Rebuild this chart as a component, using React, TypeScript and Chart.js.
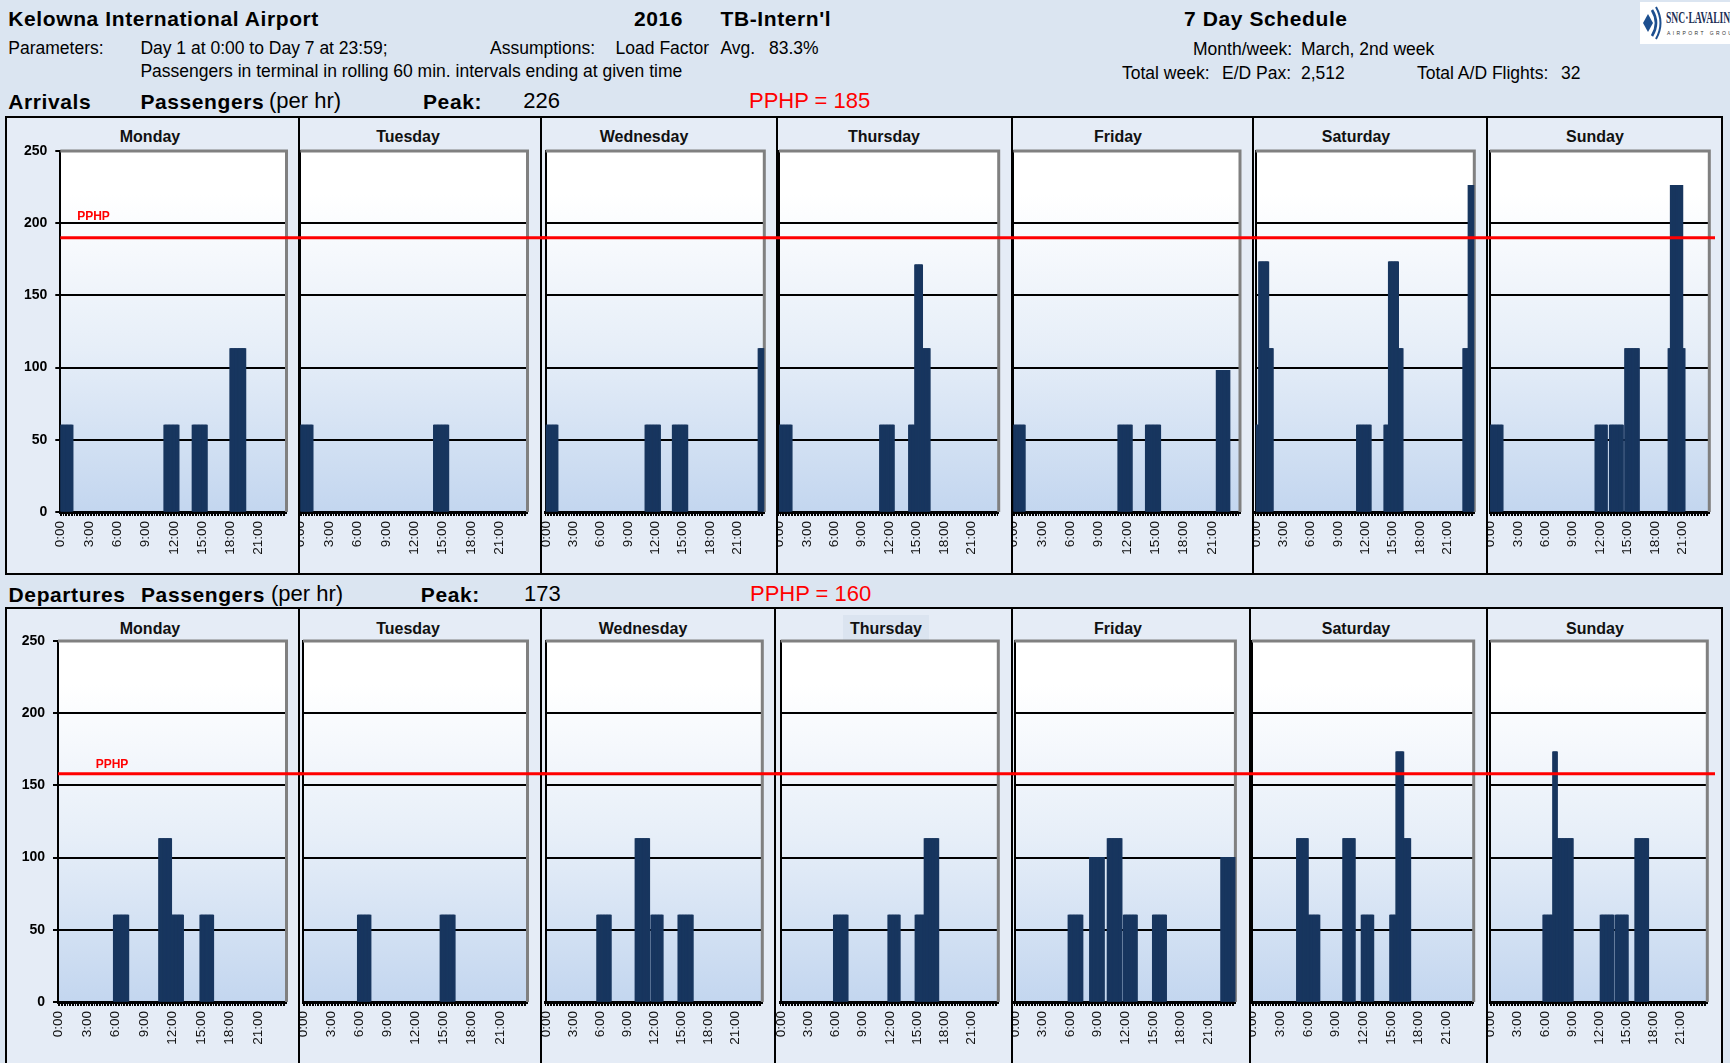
import React, { useEffect, useRef } from 'react';
import { Chart, registerables } from 'chart.js';

Chart.register(...registerables);
Chart.defaults.font.family = "'Liberation Sans', Arial, Helvetica, sans-serif";

type Block = [string, string, number];

const DAYS = ['Monday', 'Tuesday', 'Wednesday', 'Thursday', 'Friday', 'Saturday', 'Sunday'];

// Arrivals: [window start, window end, passengers in rolling 60 min interval]
const arrMonday: Block[] = [['0:00', '1:20', 60], ['11:00', '12:35', 60], ['14:00', '15:35', 60], ['18:00', '19:40', 113]];
const arrTuesday: Block[] = [['0:00', '1:20', 60], ['14:05', '15:40', 60]];
const arrWednesday: Block[] = [['0:00', '1:20', 60], ['10:55', '12:35', 60], ['13:55', '15:35', 60], ['23:20', '24:00', 113]];
const arrThursday: Block[] = [['0:00', '1:25', 60], ['11:00', '12:35', 60], ['14:10', '14:50', 60], ['14:50', '15:40', 171], ['15:40', '16:30', 113]];
const arrFriday: Block[] = [['0:00', '1:15', 60], ['11:05', '12:35', 60], ['14:00', '15:35', 60], ['21:30', '22:55', 98]];
const arrSaturday: Block[] = [['0:00', '0:20', 60], ['0:20', '1:25', 173], ['1:25', '1:55', 113], ['11:05', '12:40', 60], ['14:05', '14:35', 60], ['14:35', '15:40', 173], ['15:40', '16:10', 113], ['22:45', '23:20', 113], ['23:20', '24:00', 226]];
const arrSunday: Block[] = [['0:00', '1:25', 60], ['11:30', '12:50', 60], ['13:05', '14:35', 60], ['14:45', '16:20', 113], ['19:30', '19:45', 113], ['19:45', '21:05', 226], ['21:05', '21:20', 113]];

// Departures
const depMonday: Block[] = [['5:50', '7:25', 60], ['10:35', '11:55', 113], ['11:55', '13:10', 60], ['14:55', '16:20', 60]];
const depTuesday: Block[] = [['5:50', '7:15', 60], ['14:40', '16:15', 60]];
const depWednesday: Block[] = [['5:40', '7:15', 60], ['9:55', '11:30', 113], ['11:40', '13:00', 60], ['14:40', '16:20', 60]];
const depThursday: Block[] = [['5:50', '7:25', 60], ['11:50', '13:10', 60], ['14:50', '15:50', 60], ['15:50', '17:25', 113]];
const depFriday: Block[] = [['5:50', '7:25', 60], ['8:10', '9:45', 100], ['10:05', '11:40', 113], ['11:50', '13:20', 60], ['15:00', '16:30', 60], ['22:25', '24:00', 100]];
const depSaturday: Block[] = [['4:50', '6:05', 113], ['6:05', '7:20', 60], ['9:50', '11:10', 113], ['11:50', '13:10', 60], ['14:55', '15:35', 60], ['15:35', '16:25', 173], ['16:25', '17:10', 113]];
const depSunday: Block[] = [['5:50', '6:55', 60], ['6:55', '7:25', 173], ['7:25', '9:10', 113], ['12:10', '13:40', 60], ['13:50', '15:15', 60], ['16:00', '17:30', 113]];

const ARRIVALS = [arrMonday, arrTuesday, arrWednesday, arrThursday, arrFriday, arrSaturday, arrSunday];
const DEPARTURES = [depMonday, depTuesday, depWednesday, depThursday, depFriday, depSaturday, depSunday];

const X_TICK_LABELS = ['0:00', '3:00', '6:00', '9:00', '12:00', '15:00', '18:00', '21:00'];
const Y_MIN = 0;
const Y_MAX = 250;
const Y_STEP = 50;

const ARR_PPHP_LINE = 190;
const DEP_PPHP_LINE = 158;
const ARR_PEAK = '226';
const DEP_PEAK = '173';
const ARR_PPHP_TEXT = 'PPHP = 185';
const DEP_PPHP_TEXT = 'PPHP = 160';

// time bins (5 minutes)
const BIN_MIN = 5;
const BINS = (24 * 60) / BIN_MIN;
const pad2 = (n: number) => (n < 10 ? '0' + n : '' + n);
const TIME_LABELS: string[] = Array.from({ length: BINS }, (_, i) => {
  const m = i * BIN_MIN;
  return `${Math.floor(m / 60)}:${pad2(m % 60)}`;
});
const toMin = (s: string) => {
  const [h, m] = s.split(':').map(Number);
  return h * 60 + m;
};
function binBlocks(blocks: Block[]): (number | null)[] {
  const out: (number | null)[] = new Array(BINS).fill(null);
  blocks.forEach(([s, e, v]) => {
    const a = Math.round(toMin(s) / BIN_MIN);
    const b = Math.min(BINS, Math.round(toMin(e) / BIN_MIN));
    for (let i = a; i < b; i++) out[i] = v;
  });
  return out;
}

// ---- layout (pixels) ----
const PAGE_BG = '#dbe5f1';
const PANEL_BG = '#e5ecf6';
const BAR_COLOR = '#18365f';
const PAD_TOP = 12;
const X_AXIS_H = 58;
const FONT = "'Liberation Sans', Arial, Helvetica, sans-serif";

type Geo = { top: number; zero: number; boxTop: number; boxBottom: number; dividers: number[]; plotLeft: number[]; plotRight: number[]; titleX: number[]; titleBase: number };
const ARR_GEO: Geo = {
  top: 151, zero: 512, boxTop: 117, boxBottom: 574,
  dividers: [6, 299, 541, 777, 1012, 1253, 1487, 1722],
  plotLeft: [60.3, 300.3, 545.7, 779, 1013.3, 1255.7, 1490],
  plotRight: [286.5, 527.5, 764.3, 998.7, 1240, 1474.3, 1709.3],
  titleX: [150, 408, 644, 884, 1118, 1356, 1595],
  titleBase: 143,
};
const DEP_GEO: Geo = {
  top: 641, zero: 1002, boxTop: 608, boxBottom: 1075,
  dividers: [6, 299, 541, 775, 1012, 1250, 1487, 1722],
  plotLeft: [58, 303, 545.7, 780.7, 1014.5, 1252, 1490.2],
  plotRight: [286.5, 527.5, 762.3, 998.3, 1235.4, 1473.7, 1707.3],
  titleX: [150, 408, 643, 886, 1118, 1356, 1595],
  titleBase: 635,
};

const decorPlugin = {
  id: 'plotDecor',
  beforeDraw(chart: any) {
    const { ctx, chartArea: a } = chart;
    const g = ctx.createLinearGradient(0, a.top, 0, a.bottom);
    g.addColorStop(0, '#ffffff');
    g.addColorStop(0.12, '#ffffff');
    g.addColorStop(0.55, '#e6eef8');
    g.addColorStop(1, '#c3d6ef');
    ctx.save();
    ctx.fillStyle = g;
    ctx.fillRect(a.left, a.top, a.right - a.left, a.bottom - a.top);
    ctx.restore();
  },
  beforeDatasetsDraw(chart: any) {
    const { ctx, chartArea: a } = chart;
    ctx.save();
    ctx.strokeStyle = '#808080';
    ctx.lineWidth = 3;
    ctx.beginPath();
    ctx.moveTo(a.left, a.top);
    ctx.lineTo(a.right, a.top);
    ctx.lineTo(a.right, a.bottom);
    ctx.stroke();
    ctx.restore();
  },
  afterDatasetsDraw(chart: any, _args: any, o: any) {
    const { ctx, chartArea: a } = chart;
    const y = chart.scales.y.getPixelForValue(o.pphp);
    ctx.save();
    ctx.strokeStyle = '#ff0000';
    ctx.lineWidth = 3;
    ctx.beginPath();
    ctx.moveTo(o.fromLeft ? a.left : 0, y);
    ctx.lineTo(chart.width, y);
    ctx.stroke();
    if (o.label) {
      ctx.fillStyle = '#ff0000';
      ctx.font = `bold 12px ${FONT}`;
      ctx.textAlign = 'left';
      ctx.textBaseline = 'alphabetic';
      ctx.fillText('PPHP', chart.scales.x.getPixelForValue(o.label.bin), chart.scales.y.getPixelForValue(o.label.value));
    }
    ctx.restore();
  },
};

function DayChart({ blocks, geo, index, pphp, label }: { blocks: Block[]; geo: Geo; index: number; pphp: number; label: any }) {
  const ref = useRef<HTMLCanvasElement>(null);
  const left = index === 0 ? geo.dividers[0] + 2 : geo.dividers[index] + 1;
  const right = index < 6 ? Math.ceil(geo.plotLeft[index + 1]) + 1 : 1715;
  const top = geo.top - PAD_TOP;
  const width = right - left;
  const height = PAD_TOP + (geo.zero - geo.top) + X_AXIS_H;
  const yWidth = geo.plotLeft[index] - left;
  const padRight = right - geo.plotRight[index];
  const showY = index === 0;

  useEffect(() => {
    if (!ref.current) return;
    const chart = new Chart(ref.current, {
      type: 'bar',
      data: {
        labels: TIME_LABELS,
        datasets: [
          {
            data: binBlocks(blocks),
            backgroundColor: BAR_COLOR,
            borderWidth: 0,
            barPercentage: 1,
            categoryPercentage: 1,
            inflateAmount: 0.6,
          } as any,
        ],
      },
      options: {
        responsive: false,
        animation: false,
        devicePixelRatio: 1,
        events: [],
        layout: { padding: { left: 0, right: padRight, top: PAD_TOP, bottom: 0 } },
        plugins: {
          legend: { display: false },
          tooltip: { enabled: false },
          title: { display: false },
          plotDecor: { pphp, fromLeft: index === 0, label },
        } as any,
        scales: {
          x: {
            type: 'category',
            offset: true,
            grid: {
              display: true,
              offset: true,
              drawOnChartArea: false,
              drawTicks: true,
              tickLength: 4,
              tickWidth: 1,
              tickColor: (c: any) => (c.index % 2 === 0 ? '#000000' : 'rgba(0,0,0,0)'),
            },
            border: { display: true, color: '#000000', width: 3 },
            ticks: {
              autoSkip: false,
              minRotation: 90,
              maxRotation: 90,
              padding: 5,
              color: '#111111',
              font: { size: 13.5 },
              callback: (_v: any, i: number) => (X_TICK_LABELS.includes(TIME_LABELS[i]) ? TIME_LABELS[i] : ''),
            },
            afterFit: (s: any) => {
              s.height = X_AXIS_H;
              s.paddingLeft = 0;
              s.paddingRight = 0;
            },
          } as any,
          y: {
            min: Y_MIN,
            max: Y_MAX,
            ticks: { stepSize: Y_STEP, display: showY, color: '#000000', padding: 8, font: { size: 14, weight: 'bold' } },
            grid: {
              color: (c: any) => (c.tick && (c.tick.value === Y_MIN || c.tick.value === Y_MAX) ? 'rgba(0,0,0,0)' : '#000000'),
              lineWidth: 2,
              drawTicks: showY,
              tickLength: 5,
              tickColor: '#000000',
            },
            border: { display: true, color: '#000000', width: 2 },
            afterFit: (s: any) => {
              s.width = yWidth;
              s.paddingTop = 0;
              s.paddingBottom = 0;
            },
          } as any,
        },
      },
      plugins: [decorPlugin as any],
    });
    return () => chart.destroy();
  }, []);

  return (
    <canvas
      ref={ref}
      width={width}
      height={height}
      style={{ position: 'absolute', left, top, width, height, display: 'block' }}
    />
  );
}

function Txt({ x, base, size, bold, color, ls, children }: any) {
  return (
    <div
      style={{
        position: 'absolute',
        left: x,
        top: base - 0.8465 * size,
        fontSize: size,
        lineHeight: 1,
        fontWeight: bold ? 'bold' : 'normal',
        color: color || '#000',
        letterSpacing: ls || 0,
        whiteSpace: 'nowrap',
        fontFamily: FONT,
      }}
    >
      {children}
    </div>
  );
}

function Section({ geo, data, pphp, label, highlight }: { geo: Geo; data: Block[][]; pphp: number; label: any; highlight?: number }) {
  const bh = geo.boxBottom - geo.boxTop;
  return (
    <>
      <div
        style={{
          position: 'absolute',
          left: geo.dividers[0] - 1,
          top: geo.boxTop - 1,
          width: geo.dividers[7] - geo.dividers[0] + 2,
          height: bh + 2,
          boxSizing: 'border-box',
          border: '2px solid #000',
          background: PANEL_BG,
        }}
      />
      {geo.dividers.slice(1, 7).map((d, i) => (
        <div key={'d' + i} style={{ position: 'absolute', left: d - 1, top: geo.boxTop - 1, width: 2, height: bh + 2, background: '#000' }} />
      ))}
      {highlight !== undefined && (
        <div
          style={{
            position: 'absolute',
            left: geo.titleX[highlight] - 43,
            top: geo.titleBase - 20,
            width: 86,
            height: 26,
            background: '#dbe4f0',
          }}
        />
      )}
      {DAYS.map((d, i) => (
        <div
          key={d}
          style={{
            position: 'absolute',
            left: geo.titleX[i] - 70,
            width: 140,
            top: geo.titleBase - 0.8465 * 16,
            fontSize: 16,
            lineHeight: 1,
            fontWeight: 'bold',
            textAlign: 'center',
            fontFamily: FONT,
            color: '#111',
          }}
        >
          {d}
        </div>
      ))}
      {data.map((blocks, i) => (
        <DayChart key={i} blocks={blocks} geo={geo} index={i} pphp={pphp} label={i === 0 ? label : null} />
      ))}
    </>
  );
}

function Logo() {
  return (
    <div style={{ position: 'absolute', left: 1640, top: 2, width: 90, height: 42, background: '#fff', overflow: 'hidden' }}>
      <svg width="26" height="42" viewBox="0 0 26 42" style={{ position: 'absolute', left: 1, top: 0 }}>
        <path d="M2 21 L7 12 L12 21 L7 30 Z" fill="#1d4f8f" />
        <path d="M11 8 Q19 21 11 34" stroke="#1d4f8f" strokeWidth="2.6" fill="none" />
        <path d="M15 5 Q24 21 15 37" stroke="#1d4f8f" strokeWidth="2" fill="none" />
      </svg>
      <div
        style={{
          position: 'absolute',
          left: 26,
          top: 8,
          fontFamily: "'Liberation Serif', 'DejaVu Serif', serif",
          fontWeight: 'bold',
          fontSize: 16,
          lineHeight: 1,
          color: '#1c2f55',
          transform: 'scaleX(0.6)',
          transformOrigin: 'left top',
          whiteSpace: 'nowrap',
        }}
      >
        SNC·LAVALIN
      </div>
      <div style={{ position: 'absolute', left: 27, top: 29, fontSize: 5, lineHeight: 1, letterSpacing: 2.4, color: '#333', fontFamily: FONT, whiteSpace: 'nowrap' }}>
        AIRPORT GROUP
      </div>
    </div>
  );
}

export default function App() {
  useEffect(() => {
    document.body.style.margin = '0';
    document.body.style.overflow = 'hidden';
  }, []);
  const B = 21;
  const BL = 0.6;
  const R = 17.5;
  const H = 22;
  return (
    <div style={{ position: 'absolute', left: 0, top: 0, width: 1730, height: 1063, background: PAGE_BG, overflow: 'hidden', fontFamily: FONT }}>
      {/* Row 1 */}
      <Txt x={8.3} base={26} size={B} bold ls={BL}>Kelowna International Airport</Txt>
      <Txt x={634} base={26} size={B} bold ls={BL}>2016</Txt>
      <Txt x={720.5} base={26} size={B} bold ls={BL}>TB-Intern'l</Txt>
      <Txt x={1184} base={26} size={B} bold ls={BL}>7 Day Schedule</Txt>
      <Logo />
      {/* Row 2 */}
      <Txt x={8.3} base={54.5} size={R}>Parameters:</Txt>
      <Txt x={140.4} base={54.5} size={R}>Day 1 at 0:00 to Day 7 at 23:59;</Txt>
      <Txt x={490} base={54.5} size={R}>Assumptions:</Txt>
      <Txt x={615.6} base={54.5} size={R}>Load Factor</Txt>
      <Txt x={720.4} base={54.5} size={R}>Avg.</Txt>
      <Txt x={769} base={54.5} size={R}>83.3%</Txt>
      <Txt x={1193} base={56} size={R}>Month/week:</Txt>
      <Txt x={1301} base={56} size={R}>March, 2nd week</Txt>
      {/* Row 3 */}
      <Txt x={140.4} base={77.5} size={R}>Passengers in terminal in rolling 60 min. intervals ending at given time</Txt>
      <Txt x={1122} base={80} size={R}>Total week:</Txt>
      <Txt x={1222} base={80} size={R}>E/D Pax:</Txt>
      <Txt x={1301} base={80} size={R}>2,512</Txt>
      <Txt x={1417} base={80} size={R}>Total A/D Flights:</Txt>
      <Txt x={1561} base={80} size={R}>32</Txt>
      {/* Arrivals header */}
      <Txt x={8.3} base={109} size={B} bold ls={BL}>Arrivals</Txt>
      <Txt x={140.4} base={109} size={B} bold ls={BL}>Passengers</Txt>
      <Txt x={269} base={109} size={H}>(per hr)</Txt>
      <Txt x={423} base={109} size={B} bold ls={BL}>Peak:</Txt>
      <Txt x={523.3} base={109} size={H}>{ARR_PEAK}</Txt>
      <Txt x={749} base={109} size={H} color="#ff0000">{ARR_PPHP_TEXT}</Txt>
      <Section geo={ARR_GEO} data={ARRIVALS} pphp={ARR_PPHP_LINE} label={{ bin: 21, value: 202 }} />
      {/* Departures header */}
      <Txt x={8.6} base={601.7} size={B} bold ls={BL}>Departures</Txt>
      <Txt x={141} base={601.7} size={B} bold ls={BL}>Passengers</Txt>
      <Txt x={271} base={601.7} size={H}>(per hr)</Txt>
      <Txt x={420.8} base={601.7} size={B} bold ls={BL}>Peak:</Txt>
      <Txt x={524} base={601.7} size={H}>{DEP_PEAK}</Txt>
      <Txt x={750} base={601.7} size={H} color="#ff0000">{DEP_PPHP_TEXT}</Txt>
      <Section geo={DEP_GEO} data={DEPARTURES} pphp={DEP_PPHP_LINE} label={{ bin: 47, value: 162 }} highlight={3} />
    </div>
  );
}
